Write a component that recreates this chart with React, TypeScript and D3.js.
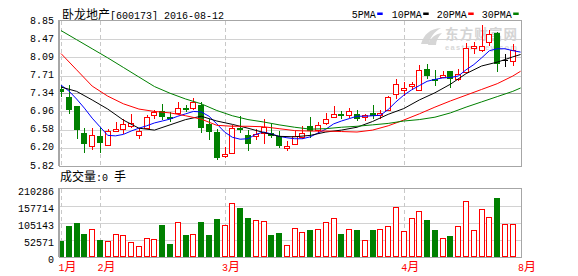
import React from 'react';
import * as d3 from 'd3';

// ---------- data ----------
const stockName = '卧龙地产';
const stockCode = '[600173] 2016-08-12';
const volumeCaptionA = '成交量';
const volumeCaptionB = ':0 ';
const volumeCaptionC = '手';

const opens = [7.42, 7.26, 7.07, 6.51, 6.23, 6.45, 6.25, 6.55, 6.59, 6.65, 6.46, 6.62, 6.88, 6.96, 6.84, 6.93, 7.04, 7.03, 7.10, 6.69,
  6.53, 6.02, 6.09, 6.62, 6.47, 6.46, 6.50, 6.50, 6.44, 6.20, 6.29, 6.43, 6.65, 6.57, 6.71, 6.85, 6.91, 6.88, 6.90, 6.84,
  6.93, 6.88, 7.00, 7.32, 7.44, 7.49, 7.40, 7.85, 7.63, 7.67, 7.80, 7.64, 7.79, 8.29, 8.24, 8.41, 8.60, 8.03, 8.01];
const highs = [7.50, 7.51, 7.08, 6.61, 6.61, 6.64, 6.60, 6.74, 6.80, 6.90, 6.61, 6.89, 7.00, 7.12, 6.95, 7.16, 7.09, 7.24, 7.16, 6.81,
  6.59, 6.21, 6.68, 6.87, 6.57, 6.59, 6.80, 6.70, 6.55, 6.35, 6.55, 6.66, 6.84, 6.74, 6.92, 7.07, 6.96, 7.03, 7.00, 6.91,
  7.09, 7.00, 7.28, 7.63, 7.58, 7.58, 7.94, 7.95, 7.82, 7.80, 7.81, 7.85, 8.38, 8.41, 8.76, 8.67, 8.63, 8.16, 8.37];
const lows = [7.26, 6.91, 6.38, 6.10, 6.16, 6.10, 6.25, 6.53, 6.48, 6.62, 6.38, 6.61, 6.81, 6.78, 6.74, 6.91, 6.95, 6.99, 6.50, 6.37,
  5.94, 5.99, 6.08, 6.51, 6.14, 6.36, 6.29, 6.40, 6.20, 6.14, 6.27, 6.39, 6.40, 6.51, 6.67, 6.83, 6.81, 6.83, 6.75, 6.75,
  6.81, 6.81, 6.96, 7.21, 7.28, 7.40, 7.38, 7.63, 7.50, 7.66, 7.45, 7.60, 7.76, 8.16, 8.20, 8.32, 7.79, 7.88, 7.92];
const closes = [7.37, 7.00, 6.58, 6.27, 6.46, 6.31, 6.55, 6.59, 6.69, 6.71, 6.55, 6.84, 6.94, 6.84, 6.80, 7.03, 7.00, 7.16, 6.62, 6.53,
  5.98, 6.08, 6.62, 6.57, 6.27, 6.48, 6.64, 6.45, 6.23, 6.24, 6.45, 6.52, 6.55, 6.67, 6.81, 6.90, 6.87, 6.96, 6.81, 6.88,
  6.87, 6.93, 7.26, 7.53, 7.46, 7.53, 7.83, 7.70, 7.59, 7.72, 7.64, 7.75, 8.28, 8.32, 8.33, 8.58, 7.95, 8.03, 8.25];
const volumes = [49700, 96300, 105700, 71500, 86000, 52800, 48700, 70400, 67300, 45600, 34200, 59000, 54900, 99400, 40400, 107700, 68400, 70400, 108800, 68400,
  118100, 98400, 166800, 152300, 121200, 113900, 110800, 68400, 74600, 37300, 89100, 76700, 83900, 86000, 107700, 121200, 71500, 86000, 83900, 51800,
  83900, 86000, 95300, 154400, 79800, 120200, 141900, 115000, 83900, 58000, 65300, 95300, 173000, 82900, 148100, 123300, 183400, 101500, 101500];

// moving averages: 60 sessions (the last one is the resumption day with 0 volume)
const ma5 = [7.51, 7.39, 7.22, 7.03, 6.82, 6.64, 6.46, 6.45, 6.48, 6.55, 6.61, 6.66, 6.72, 6.76, 6.80, 6.86, 6.91, 6.96, 6.95, 6.86,
  6.70, 6.53, 6.42, 6.38, 6.39, 6.48, 6.53, 6.49, 6.44, 6.41, 6.39, 6.39, 6.43, 6.51, 6.59, 6.70, 6.76, 6.81, 6.86, 6.86,
  6.87, 6.88, 7.00, 7.16, 7.30, 7.41, 7.50, 7.59, 7.63, 7.66, 7.67, 7.70, 7.83, 7.94, 8.08, 8.23, 8.27, 8.27, 8.23, 8.20];
const maSampleIdx = [0, 2, 4, 6, 8, 10, 12, 14, 16, 18, 20, 22, 24, 26, 28, 30, 32, 34, 36, 38, 40, 42, 44, 46, 48, 50, 52, 54, 56, 58, 59];
const ma10 = [7.47, 7.38, 7.20, 7.01, 6.78, 6.61, 6.57, 6.68, 6.79, 6.86, 6.76, 6.69, 6.61, 6.52, 6.44, 6.43, 6.46, 6.53, 6.57, 6.63,
  6.75, 6.90, 7.02, 7.20, 7.35, 7.53, 7.75, 7.91, 7.99, 8.10, 8.15];
const ma20 = [8.17, 7.83, 7.49, 7.28, 7.12, 7.01, 6.96, 6.93, 6.87, 6.80, 6.67, 6.65, 6.65, 6.64, 6.60, 6.56, 6.55, 6.55, 6.54, 6.53,
  6.57, 6.66, 6.78, 6.91, 7.05, 7.18, 7.30, 7.42, 7.54, 7.70, 7.80];
const ma30 = [8.65, 8.46, 8.27, 8.08, 7.88, 7.68, 7.48, 7.34, 7.22, 7.12, 6.98, 6.87, 6.79, 6.74, 6.68, 6.63, 6.59, 6.60, 6.63, 6.65,
  6.68, 6.71, 6.76, 6.79, 6.84, 6.93, 7.05, 7.16, 7.27, 7.38, 7.45];

const priceTicks = [8.85, 8.47, 8.09, 7.71, 7.34, 6.96, 6.58, 6.20, 5.82];
const volTicks = [210286, 157714, 105143, 52571, 0];
const monthNums = ['1', '2', '3', '4', '8'];
const monthIdx = [0, 5, 21, 44, 59];
const legendNames = ['5PMA', '10PMA', '20PMA', '30PMA'];
const legendColors = ['#0000ff', '#000000', '#ff0000', '#008000'];

const MONO = "'Liberation Mono', 'DejaVu Sans Mono', monospace";
const CJK = "'Noto Sans CJK SC', sans-serif";
const RED = '#ff0000';
const GREEN = '#008000';

export default function App() {
  const W = 578, H = 276;
  const L = 59, R = 522, T = 21, B = 166, VT = 189, VB = 257;
  const x = d3.scaleLinear().domain([0, 59]).range([61, 520.6]);
  const y = d3.scaleLinear().domain([5.82, 8.85]).range([B, T]);
  const vy = d3.scaleLinear().domain([0, 210286]).range([VB, VT]);
  const line = d3.line<[number, number]>().x(d => x(d[0])).y(d => y(d[1]));

  const maPaths = [
    line(ma5.map((v, i) => [i, v] as [number, number])),
    line(ma10.map((v, i) => [maSampleIdx[i], v] as [number, number])),
    line(ma20.map((v, i) => [maSampleIdx[i], v] as [number, number])),
    line(ma30.map((v, i) => [maSampleIdx[i], v] as [number, number])),
  ];

  const legendX = [351.7, 391.7, 436.7, 481.7];

  return (
    <svg width={W} height={H} style={{ position: 'absolute', left: 0, top: 0, background: '#fff' }}>
      <rect x={0} y={0} width={W} height={H} fill="#fff" />
      {/* watermark */}
      <g>
        <path d="M421,44 C424,34 430,29 441,28 C434,32 430,37 429,44 Z" fill="#d6d6d6" />
        <path d="M428,45 C430,38 435,34 442,33 C438,37 436,41 436,45 Z" fill="#d6d6d6" />
        <text x={445} y={39} fontFamily={CJK} fontSize={13.5} fontWeight="bold" fill="#d4d4d4" textLength={72}>东方财富网</text>
        <text x={445} y={49.5} fontFamily="'Liberation Sans', sans-serif" fontSize={7.5} fontWeight="bold" fill="#d8d8d8" textLength={72}>eastmoney.com</text>
      </g>

      {/* header */}
      <text x={62} y={19} fill="#000">
        <tspan fontFamily={CJK} fontSize={12}>{stockName}</tspan>
        <tspan fontFamily={MONO} fontSize={10}>{stockCode}</tspan>
      </text>
      {legendNames.map((n, i) => (
        <g key={n}>
          <text x={legendX[i]} y={17.5} fontFamily={MONO} fontSize={10} fill="#000">{n}</text>
          <rect x={legendX[i] + n.length * 6 + 1.5} y={12.5} width={5.5} height={2.5} fill={legendColors[i]} />
        </g>
      ))}

      {/* price panel grid */}
      {priceTicks.slice(1, -1).map(t => (
        <line key={t} x1={L} x2={R} y1={Math.round(y(t)) + 0.5} y2={Math.round(y(t)) + 0.5}
          stroke={t === 7.34 ? '#a8a8a8' : '#d2d2d2'} strokeWidth={1} shapeRendering="crispEdges" />
      ))}
      {monthIdx.map(m => (
        <line key={'vm' + m} x1={Math.round(x(m)) + 0.5} x2={Math.round(x(m)) + 0.5} y1={T} y2={B}
          stroke="#c8c8c8" strokeDasharray="4 3" shapeRendering="crispEdges" />
      ))}
      {priceTicks.map(t => (
        <text key={'pt' + t} x={54} y={y(t) + 2.5} textAnchor="end" fontFamily={MONO} fontSize={10} fill="#000">
          {t.toFixed(2)}
        </text>
      ))}

      {/* candles */}
      {opens.map((o, i) => {
        const c = closes[i];
        const cx = Math.round(x(i));
        const yh = Math.round(y(highs[i]));
        const yl = Math.round(y(lows[i]));
        const yo = Math.round(y(o));
        const yc = Math.round(y(c));
        if (o === c) {
          return (
            <g key={'k' + i} shapeRendering="crispEdges">
              <line x1={cx + 0.5} x2={cx + 0.5} y1={yh} y2={yl} stroke="#000" />
              <line x1={cx - 3} x2={cx + 3} y1={yo + 0.5} y2={yo + 0.5} stroke="#000" />
            </g>
          );
        }
        if (c > o) {
          const top = yc, bot = Math.max(yo, yc + 2);
          return (
            <g key={'k' + i} shapeRendering="crispEdges">
              <line x1={cx + 0.5} x2={cx + 0.5} y1={yh} y2={top} stroke={RED} />
              <line x1={cx + 0.5} x2={cx + 0.5} y1={bot} y2={yl} stroke={RED} />
              <rect x={cx - 2.5} y={top + 0.5} width={5} height={bot - top} fill="#fff" stroke={RED} />
            </g>
          );
        }
        const top = yo, bot = Math.max(yc, yo + 2);
        return (
          <g key={'k' + i} shapeRendering="crispEdges">
            <line x1={cx + 0.5} x2={cx + 0.5} y1={yh} y2={yl} stroke={GREEN} />
            <rect x={cx - 3} y={top} width={6} height={bot - top} fill={GREEN} />
          </g>
        );
      })}

      {/* moving averages */}
      {maPaths.map((p, i) => (
        <path key={'ma' + i} d={p || ''} fill="none" stroke={legendColors[i]} strokeWidth={1} />
      ))}

      {/* price panel border */}
      <rect x={L + 0.5} y={T - 0.5} width={R - L - 1} height={B - T + 0.5} fill="none" stroke="#a6a6a6" shapeRendering="crispEdges" />
      <line x1={L - 0.5} x2={L - 0.5} y1={T - 1} y2={B} stroke="#a6a6a6" shapeRendering="crispEdges" />
      <line x1={L} x2={R} y1={B + 0.5} y2={B + 0.5} stroke="#a6a6a6" shapeRendering="crispEdges" />

      {/* volume caption */}
      <text x={60} y={181} fill="#000">
        <tspan fontFamily={CJK} fontSize={12}>{volumeCaptionA}</tspan>
        <tspan fontFamily={MONO} fontSize={10} style={{ whiteSpace: 'pre' }}>{volumeCaptionB}</tspan>
        <tspan fontFamily={CJK} fontSize={12}>{volumeCaptionC}</tspan>
      </text>

      {/* volume panel grid */}
      {volTicks.slice(1, -1).map(t => (
        <line key={'vg' + t} x1={L} x2={R} y1={Math.round(vy(t)) + 0.5} y2={Math.round(vy(t)) + 0.5}
          stroke="#d2d2d2" shapeRendering="crispEdges" />
      ))}
      {monthIdx.map(m => (
        <line key={'vv' + m} x1={Math.round(x(m)) + 0.5} x2={Math.round(x(m)) + 0.5} y1={VT} y2={VB}
          stroke="#c8c8c8" strokeDasharray="4 3" shapeRendering="crispEdges" />
      ))}
      {volTicks.map(t => (
        <text key={'vt' + t} x={54} y={vy(t) + 6} textAnchor="end" fontFamily={MONO} fontSize={10} fill="#000">{t}</text>
      ))}

      {/* volume bars */}
      {volumes.map((v, i) => {
        const cx = Math.round(x(i));
        const top = Math.round(vy(v));
        const up = closes[i] >= opens[i];
        return up ? (
          <rect key={'v' + i} x={cx - 2.5} y={top + 0.5} width={5} height={VB - top - 1} fill="#fff" stroke={RED} shapeRendering="crispEdges" />
        ) : (
          <rect key={'v' + i} x={cx - 3} y={top} width={6} height={VB - top} fill={GREEN} shapeRendering="crispEdges" />
        );
      })}

      <rect x={L + 0.5} y={VT - 0.5} width={R - L - 1} height={VB - VT + 0.5} fill="none" stroke="#a6a6a6" shapeRendering="crispEdges" />
      <line x1={L - 0.5} x2={L - 0.5} y1={VT - 1} y2={VB} stroke="#a6a6a6" shapeRendering="crispEdges" />
      <line x1={L} x2={R} y1={VB + 0.5} y2={VB + 0.5} stroke="#a6a6a6" shapeRendering="crispEdges" />

      {/* month labels */}
      {monthIdx.map((m, i) => (
        <text key={'ml' + m} x={x(m) - 2.5} y={271} fill={RED}>
          <tspan fontFamily={MONO} fontSize={10}>{monthNums[i]}</tspan>
          <tspan fontFamily={CJK} fontSize={12}>月</tspan>
        </text>
      ))}
    </svg>
  );
}
